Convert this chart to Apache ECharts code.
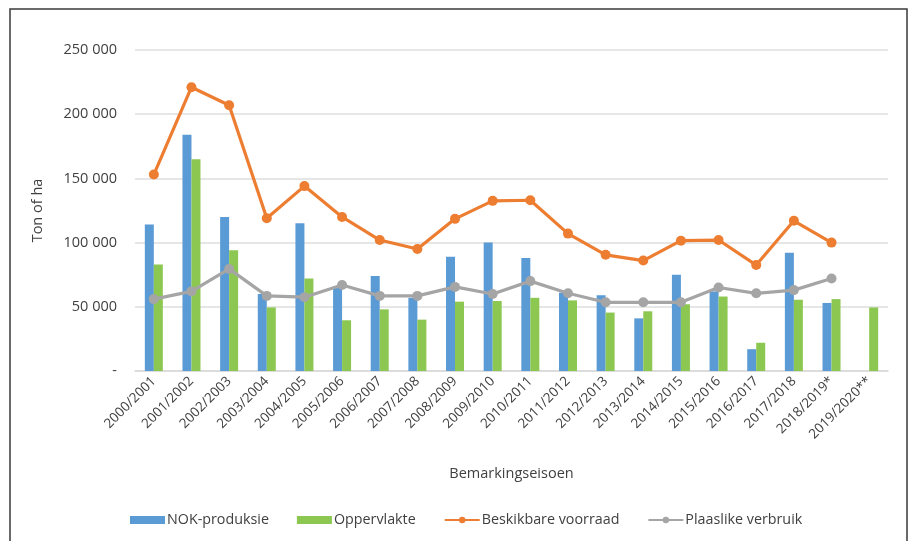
<!DOCTYPE html>
<html>
<head>
<meta charset="utf-8">
<script src="https://cdn.jsdelivr.net/npm/echarts@6/dist/echarts.min.js"></script>
<style>
  html, body { margin: 0; padding: 0; background: #fff; }
  #chart { width: 909px; height: 541px; }
</style>
</head>
<body>
<div id="chart"></div>
<script>
// Marketing seasons
const seasons = [
  '2000/2001', '2001/2002', '2002/2003', '2003/2004', '2004/2005',
  '2005/2006', '2006/2007', '2007/2008', '2008/2009', '2009/2010',
  '2010/2011', '2011/2012', '2012/2013', '2013/2014', '2014/2015',
  '2015/2016', '2016/2017', '2017/2018', '2018/2019*', '2019/2020**'
];

// NOK-produksie (ton)
const nokProduksie = [
  114000, 184000, 120000, 60000, 115000, 66000, 74000, 57000, 89000, 100000,
  88000, 61000, 59000, 41000, 75000, 62000, 17000, 92000, 53000, null
];

// Oppervlakte (ha)
const oppervlakte = [
  83000, 165000, 94000, 49500, 72000, 39500, 48000, 40000, 54000, 54500,
  57000, 55000, 45500, 46500, 52000, 58000, 22000, 55500, 56000, 49500
];

// Beskikbare voorraad (ton)
const beskikbareVoorraad = [
  153000, 221000, 207000, 119000, 144000, 120000, 102000, 95000, 118500, 132500,
  133000, 107000, 90500, 86000, 101500, 102000, 82500, 117000, 100000, null
];

// Plaaslike verbruik (ton)
const plaaslikeVerbruik = [
  56000, 62000, 79500, 58500, 57500, 67000, 58500, 58500, 65500, 60000,
  70000, 60500, 53500, 53500, 53500, 65000, 60500, 63000, 72000, null
];

// Value axis ticks
const yMin = 0;
const yMax = 250000;
const yStep = 50000;

const textColor = '#404040';
const fontFamily = '"Open Sans", "Noto Sans", sans-serif';

function formatThousands(v) {
  if (v === 0) return '-';
  return String(v).replace(/\B(?=(\d{3})+(?!\d))/g, ' ');
}

const chart = echarts.init(document.getElementById('chart'), null, { renderer: 'canvas' });

chart.setOption({
  backgroundColor: '#ffffff',
  animation: false,
  textStyle: { fontFamily: fontFamily, color: textColor },
  graphic: [
    {
      type: 'rect',
      shape: { x: 10, y: 9, width: 897, height: 540 },
      style: { fill: 'none', stroke: '#3a3a3a', lineWidth: 1.5 },
      silent: true
    }
  ],
  grid: { left: 135, right: 21, top: 50, bottom: 170, containLabel: false },
  legend: {
    bottom: 9,
    left: 125,
    itemWidth: 35,
    itemHeight: 8,
    itemGap: 28,
    textStyle: { fontSize: 14.3, color: textColor, fontFamily: fontFamily, padding: [0, 0, 0, -3] },
    data: [
      { name: 'NOK-produksie', icon: 'rect' },
      { name: 'Oppervlakte', icon: 'rect' },
      { name: 'Beskikbare voorraad' },
      { name: 'Plaaslike verbruik' }
    ]
  },
  xAxis: {
    type: 'category',
    data: seasons,
    name: 'Bemarkingseisoen',
    nameLocation: 'middle',
    nameGap: 95,
    nameTextStyle: { fontSize: 14.5, color: textColor },
    axisLine: { lineStyle: { color: '#d9d9d9', width: 1.5 } },
    axisTick: { show: false },
    axisLabel: {
      rotate: 45,
      interval: 0,
      margin: 8,
      fontSize: 13.5,
      color: textColor
    }
  },
  yAxis: {
    type: 'value',
    min: yMin,
    max: yMax,
    interval: yStep,
    name: 'Ton of ha',
    nameLocation: 'middle',
    nameGap: 90,
    nameRotate: 90,
    nameTextStyle: { fontSize: 14.5, color: textColor },
    axisLine: { show: false },
    axisTick: { show: false },
    axisLabel: { fontSize: 14.5, color: textColor, margin: 18, formatter: formatThousands },
    splitLine: { lineStyle: { color: '#dedede', width: 1.5 } }
  },
  series: [
    {
      name: 'NOK-produksie',
      type: 'bar',
      data: nokProduksie,
      barWidth: 9,
      barGap: '0%',
      itemStyle: { color: '#5b9bd5' },
      z: 2
    },
    {
      name: 'Oppervlakte',
      type: 'bar',
      data: oppervlakte,
      barWidth: 9,
      barGap: '0%',
      itemStyle: { color: '#8cc751' },
      z: 2
    },
    {
      name: 'Beskikbare voorraad',
      type: 'line',
      data: beskikbareVoorraad,
      symbol: 'circle',
      symbolSize: 10,
      lineStyle: { color: '#ed7d31', width: 3.2 },
      itemStyle: { color: '#ed7d31' },
      z: 4
    },
    {
      name: 'Plaaslike verbruik',
      type: 'line',
      data: plaaslikeVerbruik,
      symbol: 'circle',
      symbolSize: 10,
      lineStyle: { color: '#a5a5a5', width: 3.2 },
      itemStyle: { color: '#a5a5a5' },
      z: 3
    }
  ]
});
</script>
</body>
</html>
